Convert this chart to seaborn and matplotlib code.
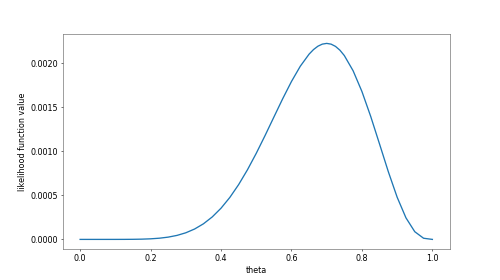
import matplotlib
matplotlib.use("Agg")
import matplotlib.pyplot as plt
import seaborn as sns
import pandas as pd

theta = [0.0, 0.025, 0.05, 0.075, 0.1, 0.125, 0.15, 0.175, 0.2, 0.225,
         0.25, 0.275, 0.3, 0.325, 0.35, 0.375, 0.4, 0.425, 0.45, 0.475,
         0.5, 0.525, 0.55, 0.575, 0.6, 0.625, 0.65, 0.6625, 0.675, 0.6875, 0.7,
         0.7125, 0.725, 0.7375,
         0.75, 0.775, 0.8, 0.825, 0.85, 0.875, 0.9, 0.925, 0.95, 0.975, 1.0]
likelihood = [0.0, 0.0, 0.0, 1.06e-8, 7.29e-8, 3.19e-7, 1.05e-6, 2.82e-6, 6.55e-6, 1.359e-5,
              2.575e-5, 4.533e-5, 7.501e-5, 1.1779e-4, 1.7669e-4, 2.546e-4, 3.539e-4, 4.761e-4, 6.217e-4, 7.895e-4,
              9.766e-4, 1.1781e-3, 1.3873e-3, 1.5953e-3, 1.7916e-3, 1.9645e-3, 2.1018e-3, 2.1534e-3, 2.1917e-3, 2.2154e-3, 2.2236e-3,
              2.2151e-3, 2.1896e-3, 2.1465e-3,
              2.0857e-3, 1.9128e-3, 1.6777e-3, 1.3941e-3, 1.0819e-3, 7.670e-4, 4.783e-4, 2.444e-4, 8.73e-5, 1.309e-5, 0.0]

df = pd.DataFrame({"theta": theta, "likelihood": likelihood})

plt.rcParams["font.size"] = 11.5
plt.rcParams["axes.edgecolor"] = "#555555"

fig, ax = plt.subplots(figsize=(10, 5.6), dpi=50)
sns.lineplot(data=df, x="theta", y="likelihood", ax=ax, color="#1f77b4", linewidth=1.9)
ax.set_xlabel("theta")
ax.set_ylabel("likelihood function value")
fig.savefig("out.png", dpi=50)
